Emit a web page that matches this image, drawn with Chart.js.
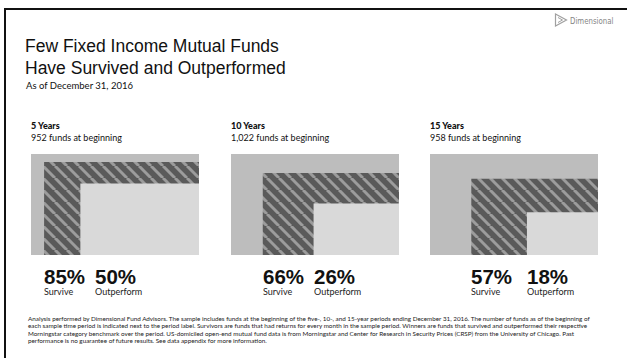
<!DOCTYPE html>
<html>
<head>
<meta charset="utf-8">
<script src="https://cdn.jsdelivr.net/npm/chart.js@4"></script>
<style>
  html, body { margin: 0; padding: 0; background: #fff; }
  body { width: 627px; height: 358px; position: relative; overflow: hidden; font-family: Lato, "Noto Sans", sans-serif; color: #111; }
  .frame-top { position: absolute; left: 4px; top: 8px; width: 623px; height: 2px; background: #111; }
  .frame-left { position: absolute; left: 4px; top: 8px; width: 2px; height: 350px; background: #111; }
  .title { position: absolute; left: 25px; top: 35px; font-family: "Liberation Sans", Arial, sans-serif; font-size: 17.5px; line-height: 22px; color: #111; }
  .subtitle { position: absolute; left: 26px; top: 80px; font-size: 9.5px; color: #111; }
  .logo { position: absolute; left: 554px; top: 13px; height: 14px; display: flex; align-items: center; color: #858585; }
  .logo svg { margin-right: 2px; }
  .logo span { font-family: "DejaVu Sans Condensed", "DejaVu Sans", sans-serif; font-size: 9.5px; display: inline-block; transform: scaleX(0.82); transform-origin: left center; }
  .head { position: absolute; top: 120px; font-size: 9px; line-height: 12px; }
  .head b { font-weight: 900; font-size: 9px; }
  .panel { position: absolute; top: 154px; width: 168px; height: 101px; }
  .pct { position: absolute; top: 266px; font-weight: 700; font-size: 20.5px; line-height: 22px; font-family: "Liberation Sans", Arial, sans-serif; }
  .lbl { position: absolute; top: 286px; font-size: 9px; color: #222; }
  .note { position: absolute; left: 28px; top: 315px; font-size: 6.3px; line-height: 7.4px; white-space: nowrap; color: #222; }
</style>
</head>
<body>
<div class="frame-top"></div>
<div class="frame-left"></div>
<div class="logo">
  <svg width="14" height="14" viewBox="0 0 14 14">
    <path d="M1.5 1 L12.5 7 L1.5 13 Z" fill="none" stroke="#a0a0a0" stroke-width="1.2"/>
    <path d="M4 4.5 L8.5 7 L4 9.5" fill="none" stroke="#a0a0a0" stroke-width="1"/>
  </svg>
  <span>Dimensional</span>
</div>
<div class="title">Few Fixed Income Mutual Funds<br>Have Survived and Outperformed</div>
<div class="subtitle">As of December 31, 2016</div>
<div id="panels"></div>
<div class="note">
Analysis performed by Dimensional Fund Advisors. The sample includes funds at the beginning of the five-, 10-, and 15-year periods ending December 31, 2016. The number of funds as of the beginning of<br>
each sample time period is indicated next to the period label. Survivors are funds that had returns for every month in the sample period. Winners are funds that survived and outperformed their respective<br>
Morningstar category benchmark over the period. US-domiciled open-end mutual fund data is from Morningstar and Center for Research in Security Prices (CRSP) from the University of Chicago. Past<br>
performance is no guarantee of future results. See data appendix for more information.
</div>
<script>
const periods = ["5 Years", "10 Years", "15 Years"];
const fundsAtStart = ["952", "1,022", "958"];
const survivePct = [85, 66, 57];
const outperformPct = [50, 26, 18];

const panelLeft = [31, 231, 430];

function hatchPattern() {
  const c = document.createElement("canvas");
  c.width = 12;
  c.height = 12;
  const g = c.getContext("2d");
  g.fillStyle = "#5a5a5a";
  g.fillRect(0, 0, 12, 12);
  g.strokeStyle = "#9c9c9c";
  g.lineWidth = 3;
  for (const k of [-12, 0, 12]) {
    g.beginPath();
    g.moveTo(k, 0);
    g.lineTo(k + 12, 12);
    g.stroke();
  }
  return g.createPattern(c, "repeat");
}

// a rectangle anchored at the bottom-right corner, side = sqrt(share) so area matches the share
function square(share) {
  const s = Math.sqrt(share / 100);
  return [{ x: 1 - s, y: s }, { x: 1, y: s }];
}

const host = document.getElementById("panels");

periods.forEach((period, i) => {
  const left = panelLeft[i];

  const head = document.createElement("div");
  head.className = "head";
  head.style.left = left + "px";
  head.innerHTML = "<b>" + period + "</b><br>" + fundsAtStart[i] + " funds at beginning";
  host.appendChild(head);

  const box = document.createElement("div");
  box.className = "panel";
  box.style.left = left + "px";
  const canvas = document.createElement("canvas");
  box.appendChild(canvas);
  host.appendChild(box);

  const chart = new Chart(canvas.getContext("2d"), {
    type: "scatter",
    data: {
      datasets: [
        { label: "Outperform", data: square(outperformPct[i]), backgroundColor: "#d9d9d9", order: 1 },
        { label: "Survive", data: square(survivePct[i]), backgroundColor: hatchPattern(), order: 2 },
        { label: "All funds", data: square(100), backgroundColor: "#bdbdbd", order: 3 }
      ].map(d => Object.assign(d, { showLine: true, fill: "origin", borderWidth: 0, pointRadius: 0 }))
    },
    options: {
      responsive: true,
      maintainAspectRatio: false,
      animation: false,
      layout: { padding: 0 },
      scales: {
        x: { type: "linear", min: 0, max: 1, display: false },
        y: { type: "linear", min: 0, max: 1, display: false }
      },
      plugins: { legend: { display: false }, tooltip: { enabled: false } }
    }
  });

  const xs = chart.scales.x;
  const surviveX = left + xs.getPixelForValue(1 - Math.sqrt(survivePct[i] / 100));
  const outX = Math.max(left + xs.getPixelForValue(1 - Math.sqrt(outperformPct[i] / 100)), surviveX + 51);

  [[survivePct[i], "Survive", surviveX], [outperformPct[i], "Outperform", outX]].forEach(([v, name, x]) => {
    const p = document.createElement("div");
    p.className = "pct";
    p.style.left = Math.round(x) + "px";
    p.textContent = v + "%";
    host.appendChild(p);
    const l = document.createElement("div");
    l.className = "lbl";
    l.style.left = Math.round(x) + "px";
    l.textContent = name;
    host.appendChild(l);
  });
});
</script>
</body>
</html>
